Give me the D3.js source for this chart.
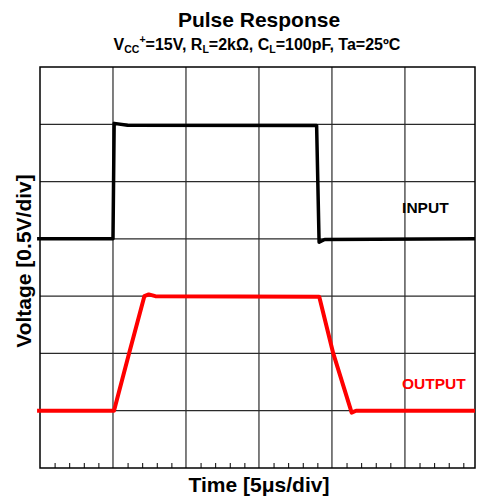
<!DOCTYPE html>
<html>
<head>
<meta charset="utf-8">
<script src="https://cdn.jsdelivr.net/npm/d3@7"></script>
<style>
  body { margin: 0; background: #fff; }
  text { font-family: "Liberation Sans", Arial, sans-serif; font-weight: bold; }
</style>
</head>
<body>
<div id="chart"></div>
<script>
// time in microseconds (5us/div), voltage in volts (0.5V/div)
const inputT = [-0.2, 5.0, 5.08, 6.0, 18.95, 19.12, 19.5, 29.8];
const inputV = [2.0, 2.0, 3.008, 2.992, 2.99, 1.97, 1.995, 2.0];

const outputT = [-0.2, 5.07, 6.1, 7.15, 7.45, 7.9, 19.13, 20.09, 21.35, 21.65, 29.8];
const outputV = [0.5, 0.5, 1.0, 1.5, 1.515, 1.5, 1.495, 1.0, 0.483, 0.5, 0.5];

const gridT = [0, 5, 10, 15, 20, 25];
const gridV = [0.5, 1.0, 1.5, 2.0, 2.5, 3.0];
const minorT = d3.range(1, 30).filter(d => d % 5 !== 0);

const title = "Pulse Response";
const xTitle = "Time [5\u03bcs/div]";
const yTitle = "Voltage [0.5V/div]";
const labels = ["INPUT", "OUTPUT"];

const W = 480, H = 501;
const margin = {top: 67, right: 5, bottom: 33, left: 40};

const svg = d3.select("#chart")
  .append("svg")
    .attr("width", W)
    .attr("height", H);

const x = d3.scaleLinear()
  .domain([0, 29.8])
  .range([margin.left, W - margin.right]);

const y = d3.scaleLinear()
  .domain([0, 3.5])
  .range([H - margin.bottom, margin.top]);

// grid lines
svg.append("g")
  .selectAll("line")
  .data(gridT.slice(1))
  .join("line")
    .attr("x1", d => x(d)).attr("x2", d => x(d))
    .attr("y1", y(0)).attr("y2", y(3.5))
    .attr("stroke", "#2a2a2a")
    .attr("stroke-width", 1.2);

svg.append("g")
  .selectAll("line")
  .data(gridV)
  .join("line")
    .attr("x1", x(0)).attr("x2", x(29.8))
    .attr("y1", d => y(d)).attr("y2", d => y(d))
    .attr("stroke", "#2a2a2a")
    .attr("stroke-width", 1.2);

// minor ticks along the bottom
const xAxis = svg.append("g")
  .attr("transform", `translate(0, ${y(0)})`)
  .call(d3.axisBottom(x).tickValues(minorT).tickSize(-5).tickFormat(""));
xAxis.select(".domain").remove();
xAxis.selectAll(".tick line").attr("stroke", "#000").attr("stroke-width", 1);

// frame
svg.append("rect")
  .attr("x", x(0))
  .attr("y", y(3.5))
  .attr("width", x(29.8) - x(0))
  .attr("height", y(0) - y(3.5))
  .attr("fill", "none")
  .attr("stroke", "#000")
  .attr("stroke-width", 1.5);

// traces
const line = d3.line()
  .x(d => x(d[0]))
  .y(d => y(d[1]));

svg.append("path")
  .datum(d3.zip(inputT, inputV))
  .attr("d", line)
  .attr("fill", "none")
  .attr("stroke", "#000")
  .attr("stroke-width", 3.5)
  .attr("stroke-linejoin", "round");

svg.append("path")
  .datum(d3.zip(outputT, outputV))
  .attr("d", line)
  .attr("fill", "none")
  .attr("stroke", "#ff0000")
  .attr("stroke-width", 4)
  .attr("stroke-linejoin", "round");

// trace labels
svg.append("text")
  .attr("x", x(26.4))
  .attr("y", y(2.228))
  .attr("text-anchor", "middle")
  .style("font-size", "15.5px")
  .attr("fill", "#000")
  .text(labels[0]);

svg.append("text")
  .attr("x", x(26.98))
  .attr("y", y(0.69))
  .attr("text-anchor", "middle")
  .style("font-size", "15.5px")
  .attr("fill", "#ff0000")
  .text(labels[1]);

// titles
svg.append("text")
  .attr("x", 259)
  .attr("y", 26.5)
  .attr("text-anchor", "middle")
  .style("font-size", "21px")
  .text(title);

const sub = svg.append("text")
  .attr("x", 257)
  .attr("y", 49.5)
  .attr("text-anchor", "middle")
  .style("font-size", "16px");
sub.append("tspan").text("V");
sub.append("tspan").attr("dy", 3).style("font-size", "10.5px").text("CC");
sub.append("tspan").attr("dy", -10).style("font-size", "10.5px").text("+");
sub.append("tspan").attr("dy", 7).text("=15V, R");
sub.append("tspan").attr("dy", 3).style("font-size", "10.5px").text("L");
sub.append("tspan").attr("dy", -3).text("=2k\u03a9, C");
sub.append("tspan").attr("dy", 3).style("font-size", "10.5px").text("L");
sub.append("tspan").attr("dy", -3).text("=100pF, Ta=25\u00baC");

svg.append("text")
  .attr("x", 259)
  .attr("y", 492)
  .attr("text-anchor", "middle")
  .style("font-size", "21px")
  .text(xTitle);

svg.append("text")
  .attr("transform", "translate(31, 261) rotate(-90)")
  .attr("text-anchor", "middle")
  .style("font-size", "21px")
  .text(yTitle);
</script>
</body>
</html>
